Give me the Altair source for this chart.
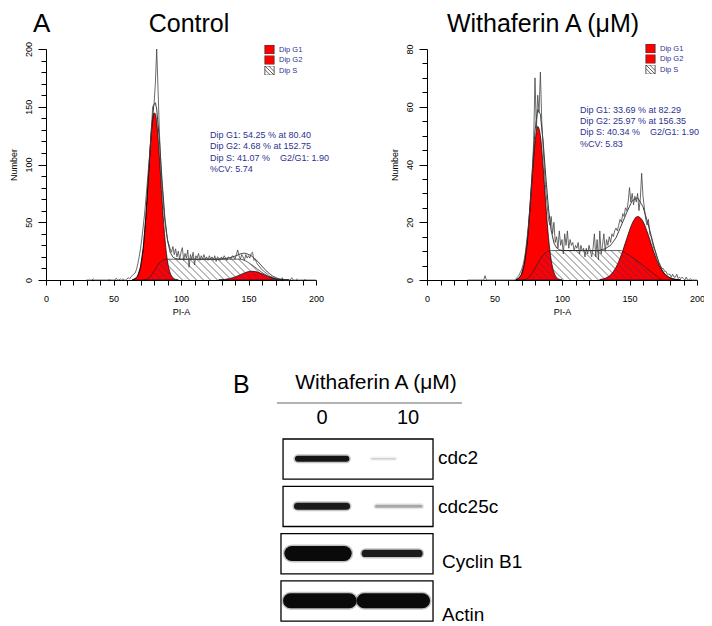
import altair as alt
import numpy as np
import pandas as pd

FONT = "Liberation Sans"
NAVY = "#2e3192"
RED = "#ff0000"
HATCH_DARK = "#3a2f8f"
HATCH_LIGHT = "#404040"

# ---------------- Panel A : PI-A histograms ----------------
RAW_X0 = 30  # first channel of the raw histogram lists

ctrl_raw = [
    0, 0, 0, 0, 0, 1, 0, 0, 0, 0,
    0, 0, 0, 0, 0, 0, 0, 0.5, 0, 0,
    0, 0, 1.5, 0, 0, 1,
    0, 1, 0, 0, 1, 2, 1, 3, 4, 5,
    6, 9, 14, 20, 27, 36, 46, 57, 70, 84,
    98, 112, 128, 150, 152, 170, 200, 165, 128, 100,
    80, 65, 52, 42, 35,
    31, 27, 24, 29, 22, 27, 20, 25, 18, 24,
    28, 17, 23, 19, 26, 11, 22, 18, 24, 13,
    21, 19, 23, 17, 21, 18, 22, 18, 20, 17,
    21, 18, 20, 17, 21, 16, 20, 19, 17, 20,
    18, 21, 19, 17, 20, 19, 18, 21, 20, 18,
    22, 26, 21, 18, 22, 20, 17, 22, 19, 21,
    19, 23, 24, 17, 18, 15, 13, 12, 10, 9,
    8, 7, 6, 5, 4, 3, 3, 2, 2, 1,
    1, 1, 0, 0, 2, 0, 0, 0, 0, 0,
    0, 2, 0, 0, 0, 1, 0, 0, 0, 0,
    0, 0.5, 0, 0, 0, 0, 0, 0, 0, 0,
]

trt_raw = [
    0, 0, 0, 0, 0, 0, 0, 0, 0, 0,
    0, 0, 0, 1.5, 0, 0, 0, 0, 0, 0,
    0, 0, 0, 0, 0, 0, 0, 0, 0, 0,
    0, 0, 0, 0, 0,
    0, 0.5, 1, 1.5, 2.5, 3.5, 5, 7, 10, 14,
    18, 24, 30, 37, 48, 70, 52, 64, 58, 72,
    55, 46, 38, 31, 26, 21, 19, 22, 16, 20,
    13, 15, 11, 17, 12, 14, 9, 16, 12, 17,
    11, 14, 12, 13, 10, 12, 11, 13, 9, 12,
    10, 11, 8, 11, 9, 12, 10, 8, 11, 16,
    8, 14, 7, 17, 9, 12, 16, 10, 14, 12,
    15, 13, 16, 15, 17, 18, 17, 19, 21, 20,
    23, 22, 25, 24, 27, 32, 27, 30, 26, 29,
    27, 30, 24, 28, 37, 29, 25, 21, 19, 21,
    16, 15, 13, 11, 10, 8, 7, 6, 5, 4,
    4, 3, 3, 2, 2, 2, 1, 2, 1, 1,
    2, 0.5, 1, 0.5, 1, 0.5, 0, 1, 0, 0,
    0.5, 0, 0, 0, 0, 0,
]

# fitted components
ctrl_g1_x = [64, 66, 68, 70, 72, 74, 76, 78, 80, 81, 82, 84, 86, 88, 90, 92, 94, 96, 98]
ctrl_g1_y = [0.25, 1.1, 3.8, 11.3, 27.3, 55, 91.7, 126.5, 144.5, 144, 136.5, 106.7, 69, 37, 16.4, 6, 1.8, 0.5, 0.07]
ctrl_g2_x = [128, 132, 136, 140, 144, 148, 152, 156, 160, 164, 168, 172, 176, 180]
ctrl_g2_y = [0.14, 0.46, 1.23, 2.64, 4.6, 6.6, 7.57, 7.1, 5.4, 3.35, 1.67, 0.67, 0.23, 0.06]
ctrl_s_x = [72, 74, 76, 78, 80, 82, 84, 86, 88, 90, 144, 146, 148, 152, 156, 160, 164, 168, 172, 176]
ctrl_s_y = [0, 0.3, 1.5, 4, 7.5, 11.5, 14.8, 16.8, 17.7, 18, 18, 17.5, 16.5, 13.5, 10, 6.5, 3.6, 1.6, 0.5, 0]

trt_g1_x = [66, 68, 70, 72, 74, 76, 78, 80, 82, 84, 86, 88, 90, 92, 94, 96, 98, 100]
trt_g1_y = [0.17, 0.63, 2.0, 5.4, 12, 22.6, 35.7, 47.6, 53.2, 50, 39.5, 26.3, 14.7, 6.9, 2.7, 0.9, 0.25, 0.05]
trt_g2_x = [128, 132, 136, 140, 144, 148, 152, 156, 160, 164, 168, 172, 176, 180, 184, 188]
trt_g2_y = [0.17, 0.61, 1.8, 4.4, 8.8, 14.4, 19.6, 22, 20.3, 15.5, 9.7, 5, 2.1, 0.75, 0.22, 0.05]
trt_s_x = [70, 72, 74, 76, 78, 80, 82, 84, 86, 88, 90, 92, 144, 146, 150, 154, 158, 162, 166, 170, 172, 174]
trt_s_y = [0, 0.1, 0.4, 1.2, 2.5, 4, 5.8, 7.3, 8.6, 9.5, 10, 10.2, 10.2, 9.6, 8.5, 7.2, 5.8, 4.3, 2.8, 1.4, 0.6, 0]

NB = "\u00a0"
ctrl_stats = ["Dip G1: 54.25 % at 80.40", "Dip G2: 4.68 % at 152.75",
              "Dip S: 41.07 %" + NB * 4 + "G2/G1: 1.90", "%CV: 5.74"]
trt_stats = ["Dip G1: 33.69 % at 82.29", "Dip G2: 25.97 % at 156.35",
             "Dip S: 40.34 %" + NB * 4 + "G2/G1: 1.90", "%CV: 5.83"]
legend_labels = ["Dip G1", "Dip G2", "Dip S"]

# ---------------- layout (pixels inside the single plot frame) ----------------
TOTAL_W, TOTAL_H = 651, 572
PW, PH = 270, 231          # each histogram frame
C2_X0 = 381                # left edge of the second histogram
BLOT_X = [231, 416]        # pixel span of lanes axis line
BLOT_Y = [354, 572]        # pixel span of blot rows
HATCH_PATH = "M-1,-1H1V1H-1Z M-1,-0.2L0.2,1 M-0.2,-1L1,0.2 M-1,-1L1,1"


def hatch_segments(s_x, s_y, reds, ymax, spacing=7.0, step=0.25):
    sxp = PW / 200.0
    syp = PH / ymax
    xp = np.arange(0, PW + step / 2, step)
    xd = xp / sxp
    s_h = np.interp(xd, s_x, s_y, left=0, right=0) * syp
    red_h = np.zeros_like(xp)
    for cx, cy in reds:
        red_h = np.maximum(red_h, np.interp(xd, cx, cy, left=0, right=0) * syp)
    segs = []
    c = spacing * 0.5
    cmax = PW + s_h.max()
    while c < cmax:
        h = c - xp
        inside = (h >= 0) & (h <= s_h)
        idx = np.flatnonzero(inside)
        if idx.size:
            br = np.flatnonzero(np.diff(idx) > 1)
            starts = np.r_[idx[0], idx[br + 1]]
            ends = np.r_[idx[br], idx[-1]]
            for a, b in zip(starts, ends):
                red = h[a:b + 1] <= red_h[a:b + 1]
                k = a
                while k <= b:
                    m = k
                    while m + 1 <= b and red[m + 1 - a] == red[k - a]:
                        m += 1
                    end = min(m + 1, b)
                    if end > k:
                        segs.append(dict(x=xd[k], y=h[k] / syp, x2=xd[end], y2=h[end] / syp,
                                         col=HATCH_DARK if red[k - a] else HATCH_LIGHT))
                    k = m + 1
        c += spacing
    return pd.DataFrame(segs)


def panel(raw, g1x, g1y, g2x, g2y, s_x, s_y, ymax, yminor, ymajor, x0,
          title, title_cx, stats, stats_xy, legend_y, letter=None):
    xaxis = alt.Axis(title="PI-A", orient="bottom", offset=-(TOTAL_H - PH),
                     values=list(range(0, 201, 10)),
                     labelExpr="datum.value % 50 === 0 ? datum.label : ''",
                     labelOverlap=False, labelFlush=False, tickSize=5, labelPadding=9,
                     labelFont=FONT, labelFontSize=9, labelColor="black",
                     titleFont=FONT, titleFontSize=9, titleFontWeight="normal",
                     titleColor="black", titlePadding=4, domainColor="black",
                     tickColor="black", grid=False)
    yaxis = alt.Axis(title="Number", orient="left", offset=-x0,
                     values=list(range(0, ymax + 1, yminor)),
                     labelExpr=f"datum.value % {ymajor} === 0 ? datum.label : ''",
                     tickSize={"condition": {"test": f"datum.value % {ymajor} === 0", "value": 8},
                               "value": 5},
                     labelOverlap=False, labelFlush=False,
                     labelAngle=270, labelAlign="center", labelBaseline="bottom",
                     labelPadding=5, labelFont=FONT, labelFontSize=9, labelColor="black",
                     titleFont=FONT, titleFontSize=9, titleFontWeight="normal",
                     titleColor="black", titlePadding=6, domainColor="black",
                     tickColor="black", grid=False)
    X = alt.X("x:Q", scale=alt.Scale(domain=[0, 200], range=[x0, x0 + PW], nice=False, zero=False),
              axis=xaxis)
    Y = alt.Y("y:Q", scale=alt.Scale(domain=[0, ymax], range=[PH, 0], nice=False, zero=False),
              axis=yaxis)

    raw_df = pd.DataFrame({"x": np.arange(RAW_X0, RAW_X0 + len(raw)), "y": raw})
    g1_df = pd.DataFrame({"x": g1x, "y": g1y})
    g2_df = pd.DataFrame({"x": g2x, "y": g2y})
    s_df = pd.DataFrame({"x": s_x, "y": s_y})
    grid = np.arange(50, 200.01, 0.5)
    env = (np.interp(grid, g1x, g1y, left=0, right=0) + np.interp(grid, g2x, g2y, left=0, right=0)
           + np.interp(grid, s_x, s_y, left=0, right=0))
    keep = env > 0.05
    env_df = pd.DataFrame({"x": grid[keep], "y": env[keep]})
    hatch_df = hatch_segments(s_x, s_y, [(g1x, g1y), (g2x, g2y)], ymax)

    layers = [
        alt.Chart(g1_df).mark_area(color=RED, stroke="black", strokeWidth=0.7,
                                   interpolate="monotone").encode(x=X, y=Y),
        alt.Chart(g2_df).mark_area(color=RED, stroke="black", strokeWidth=0.7,
                                   interpolate="monotone").encode(x=X, y=Y),
        alt.Chart(hatch_df).mark_rule(strokeWidth=0.7).encode(
            x=X, y=Y, x2="x2:Q", y2="y2:Q", stroke=alt.Stroke("col:N", scale=None)),
        alt.Chart(s_df).mark_line(color="#222", strokeWidth=0.7).encode(x=X, y=Y),
        alt.Chart(env_df).mark_line(color="black", strokeWidth=0.8,
                                    interpolate="monotone").encode(x=X, y=Y),
        alt.Chart(raw_df).mark_line(color="#444", strokeWidth=0.8).encode(x=X, y=Y),
        alt.Chart(pd.DataFrame({"x": [stats_xy[0]], "y": [stats_xy[1]]})).mark_text(
            text=stats, align="left", baseline="top", lineHeight=11.3, font=FONT,
            fontSize=9, color=NAVY).encode(x=X, y=Y),
    ]
    leg = alt.Legend(orient="none", legendX=x0 + 218, legendY=legend_y, title=None, padding=0,
                     labelFont=FONT, labelFontSize=7.5, labelColor=NAVY, labelOffset=4,
                     symbolSize=85, symbolStrokeWidth=0.8, clipHeight=9,
                     symbolOpacity=1, rowPadding=1.5)
    layers.append(
        alt.Chart(pd.DataFrame({"lab": legend_labels})).mark_point(
            filled=True, opacity=0, size=85).encode(
            x=alt.value(0), y=alt.value(0),
            fill=alt.Fill("lab:N", scale=alt.Scale(domain=legend_labels, range=[RED, RED, "white"]),
                          legend=leg),
            stroke=alt.Stroke("lab:N", scale=alt.Scale(domain=legend_labels,
                                                      range=["#333", "#333", "#333"]),
                              legend=leg),
            shape=alt.Shape("lab:N", scale=alt.Scale(domain=legend_labels,
                                                    range=["square", "square", HATCH_PATH]),
                            legend=leg)))
    layers.append(alt.Chart(pd.DataFrame({"t": [title]})).mark_text(
        align="center", baseline="alphabetic", font=FONT, fontSize=25, color="black").encode(
        x=alt.value(title_cx), y=alt.value(-17), text="t:N"))
    if letter:
        layers.append(alt.Chart(pd.DataFrame({"t": [letter]})).mark_text(
            align="left", baseline="alphabetic", font=FONT, fontSize=26, color="black").encode(
            x=alt.value(-13), y=alt.value(-17), text="t:N"))
    return alt.layer(*layers).resolve_scale(
        fill="independent", stroke="independent", shape="independent")


c1 = panel(ctrl_raw, ctrl_g1_x, ctrl_g1_y, ctrl_g2_x, ctrl_g2_y, ctrl_s_x, ctrl_s_y,
           200, 10, 50, 0, "Control", 143, ctrl_stats, (121.5, 129), -4, letter="A")
c2 = panel(trt_raw, trt_g1_x, trt_g1_y, trt_g2_x, trt_g2_y, trt_s_x, trt_s_y,
           80, 5, 20, C2_X0, "Withaferin A (\u03bcM)", 497, trt_stats, (113.3, 60.3), -5)

# ---------------- Panel B : western blot ----------------
proteins = ["cdc2", "cdc25c", "Cyclin B1", "Actin"]
lanes = ["0", "10"]
band_left = [[-0.28, 0.58], [-0.285, 0.634], [-0.351, 0.503], [-0.366, 0.49]]
band_right = [[0.283, 0.85], [0.285, 1.151], [0.258, 1.128], [0.316, 1.169]]
band_thick = [[6, 1.5], [7, 3], [15, 7.3], [15, 15]]
band_intensity = [[0.95, 0.12], [0.93, 0.3], [1.0, 0.92], [1.0, 1.0]]

box_left = [-0.453, -0.453, -0.477, -0.477]
box_right = [1.291, 1.291, 1.291, 1.291]
label_x = [1.349, 1.349, 1.395, 1.395]
label_y = [0.40, 1.44, 2.60, 3.72]
header_text = "Withaferin A (\u03bcM)"


def gray(v):
    g = int(round(235 - 225 * v))
    return f"#{g:02x}{g:02x}{g:02x}"


band_rows = []
for i, p in enumerate(proteins):
    for j, ln in enumerate(lanes):
        band_rows.append(dict(protein=p, lane=ln, x=band_left[i][j], x2=band_right[i][j],
                              y=i + 0.42, size=band_thick[i][j], halo=band_thick[i][j] + 3,
                              col=gray(band_intensity[i][j])))
band_df = pd.DataFrame(band_rows)
box_df = pd.DataFrame({"protein": proteins, "x": box_left, "x2": box_right,
                       "y": [i for i in range(4)], "y2": [i + 0.85 for i in range(4)]})
lab_df = pd.DataFrame({"x": label_x, "y": label_y, "t": proteins})
lane_df = pd.DataFrame({"x": [0, 1], "y": [-0.44, -0.44], "t": lanes})

BX = alt.X("x:Q", scale=alt.Scale(domain=[-0.5233, 1.6279], range=BLOT_X, nice=False, zero=False),
           axis=None)
BY = alt.Y("y:Q", scale=alt.Scale(domain=[-0.761, 3.848], range=BLOT_Y, nice=False, zero=False),
           axis=None)

blot = alt.layer(
    alt.Chart(band_df).mark_rule(strokeCap="round", opacity=0.25).encode(
        x=BX, x2="x2:Q", y=BY, size=alt.Size("halo:Q", scale=None),
        color=alt.Color("col:N", scale=None)),
    alt.Chart(band_df).mark_rule(strokeCap="round").encode(
        x=BX, x2="x2:Q", y=BY, size=alt.Size("size:Q", scale=None),
        color=alt.Color("col:N", scale=None)),
    alt.Chart(box_df).mark_rect(fill="white", fillOpacity=0, stroke="black", strokeWidth=1.3).encode(
        x=BX, x2="x2:Q", y=BY, y2="y2:Q"),
    alt.Chart(lab_df).mark_text(align="left", baseline="middle", font=FONT, fontSize=19,
                                color="black").encode(x=BX, y=BY, text="t:N"),
    alt.Chart(lane_df).mark_text(align="center", baseline="middle", font=FONT, fontSize=20,
                                 color="black").encode(x=BX, y=BY, text="t:N"),
    alt.Chart(pd.DataFrame({"x": [-0.5233], "x2": [1.6279], "y": [-0.761]})).mark_rule(
        color="#666", strokeWidth=1).encode(x=BX, x2="x2:Q", y=BY),
    alt.Chart(pd.DataFrame({"x": [0.628], "y": [-1.184], "t": [header_text]})).mark_text(
        align="center", baseline="middle", font=FONT, fontSize=21, color="black").encode(
        x=BX, y=BY, text="t:N"),
    alt.Chart(pd.DataFrame({"x": [-1.035], "y": [-0.973], "t": ["B"]})).mark_text(
        align="left", baseline="alphabetic", font=FONT, fontSize=25, color="black").encode(
        x=BX, y=BY, text="t:N"),
)

chart = alt.layer(c1, c2, blot).resolve_scale(
    x="independent", y="independent", fill="independent", stroke="independent",
    shape="independent", size="independent", color="independent").resolve_axis(
    x="independent", y="independent").resolve_legend(
    fill="independent", stroke="independent", shape="independent").properties(
    width=TOTAL_W, height=TOTAL_H,
    padding={"left": 38, "top": 41, "right": 7, "bottom": 3},
    autosize=alt.AutoSizeParams(type="none")).configure_view(stroke=None)

chart.save("out.html", embed_options={"renderer": "svg", "actions": False})
